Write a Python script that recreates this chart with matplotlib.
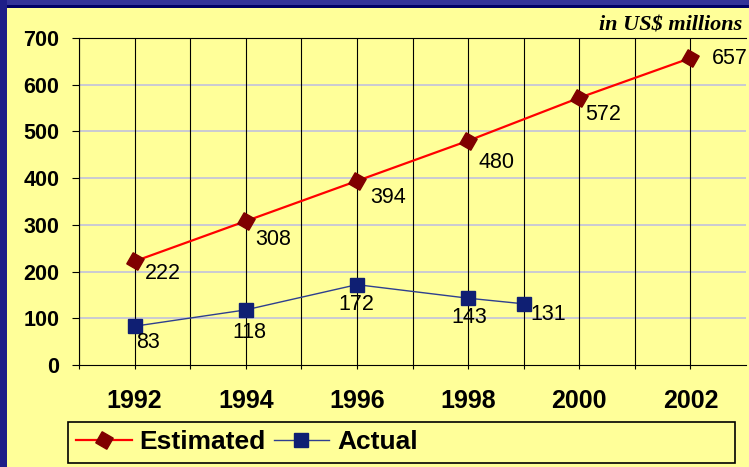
import matplotlib
matplotlib.use('Agg')
import matplotlib.pyplot as plt
from matplotlib.patches import Rectangle

# data
est_years = [1992, 1994, 1996, 1998, 2000, 2002]
est_values = [222, 308, 394, 480, 572, 657]
act_years = [1992, 1994, 1996, 1998, 1999]
act_values = [83, 118, 172, 143, 131]
year_labels = ['1992', '1994', '1996', '1998', '2000', '2002']
y_ticks = [0, 100, 200, 300, 400, 500, 600, 700]

# label offsets (pixels, right / down) of each data label centre
est_off = [(28, 12), (27, 18), (31, 17), (28, 22), (24, 17), (39, 0)]
act_off = [(13, 16), (4, 23), (-1, 20), (1, 19), (25, 11)]

W, H = 749, 467
bg = '#FFFF99'
px = 0.72  # points per pixel at dpi 100

fig = plt.figure(figsize=(W / 100, H / 100), dpi=100)
fig.patch.set_facecolor(bg)

# frame pieces of the slide
fig.add_artist(Rectangle((0, 1 - 5 / H), 1, 5 / H, transform=fig.transFigure,
                         color='#333399', lw=0, zorder=0))
fig.add_artist(Rectangle((0, 1 - 8 / H), 1, 3 / H, transform=fig.transFigure,
                         color='#000066', lw=0, zorder=0))
fig.add_artist(Rectangle((0, 0), 7 / W, 1, transform=fig.transFigure,
                         color='#1E1E88', lw=0, zorder=0))

ax = fig.add_axes([79 / W, (H - 365) / H, (746 - 79) / W, (365 - 38) / H])
ax.set_facecolor(bg)
ax.set_xlim(1991, 2003)
ax.set_ylim(0, 700)

# grid: black verticals every year, pale horizontals
ax.set_xticks(list(range(1991, 2003)))
ax.set_xticklabels(['' if str(y) not in year_labels else str(y) for y in range(1991, 2003)],
                   fontsize=18, fontweight='bold', family='Liberation Sans')
ax.tick_params(axis='x', length=3, width=0.8, pad=14, color='black')
ax.set_yticks(y_ticks)
ax.set_yticklabels([str(v) for v in y_ticks], fontsize=15.5, fontweight='bold',
                   family='Liberation Sans')
ax.tick_params(axis='y', length=5, width=0.8, pad=9, color='black')
ax.grid(axis='x', color='black', lw=0.8, zorder=1)
for v in y_ticks[1:-1]:
    ax.axhline(v, color='#C6C6D8', lw=1.3, zorder=0.5)
for s in ['left', 'bottom', 'top']:
    ax.spines[s].set_color('black')
    ax.spines[s].set_linewidth(0.8)
ax.spines['right'].set_visible(False)

ax.plot(est_years, est_values, color='#FF0000', lw=1.6, marker=(4, 0, 15),
        ms=13, mfc='#800000', mec='#800000', label='Estimated', zorder=3, clip_on=False)
ax.plot(act_years, act_values, color='#2E3F8F', lw=1.0, marker='s',
        ms=10, mfc='#0F1F73', mec='#0F1F73', label='Actual', zorder=3, clip_on=False)

for x, y, (dx, dy) in zip(est_years, est_values, est_off):
    ax.annotate(str(y), (x, y), xytext=(dx * px, -dy * px), textcoords='offset points',
                ha='center', va='center', fontsize=15.5, family='Liberation Sans', zorder=4)
for x, y, (dx, dy) in zip(act_years, act_values, act_off):
    ax.annotate(str(y), (x, y), xytext=(dx * px, -dy * px), textcoords='offset points',
                ha='center', va='center', fontsize=15.5, family='Liberation Sans', zorder=4)

fig.text(742 / W, 1 - 25 / H, 'in US$ millions', ha='right', va='center',
         fontsize=16, fontweight='bold', fontstyle='italic', family='Liberation Serif')

# legend box
fig.add_artist(Rectangle((68 / W, (H - 463) / H), (735 - 68) / W, 41 / H,
                         transform=fig.transFigure, fc=bg, ec='black', lw=1.2, zorder=1))
leg = fig.legend(loc='center left', bbox_to_anchor=(63 / W, 1 - 442 / H), ncol=2,
                 frameon=False, borderpad=0, handlelength=2.1, handletextpad=0.3,
                 columnspacing=0.3, prop={'family': 'Liberation Sans', 'size': 19,
                                          'weight': 'bold'})
leg.set_zorder(2)

fig.savefig('out.png', dpi=100, facecolor=bg)
